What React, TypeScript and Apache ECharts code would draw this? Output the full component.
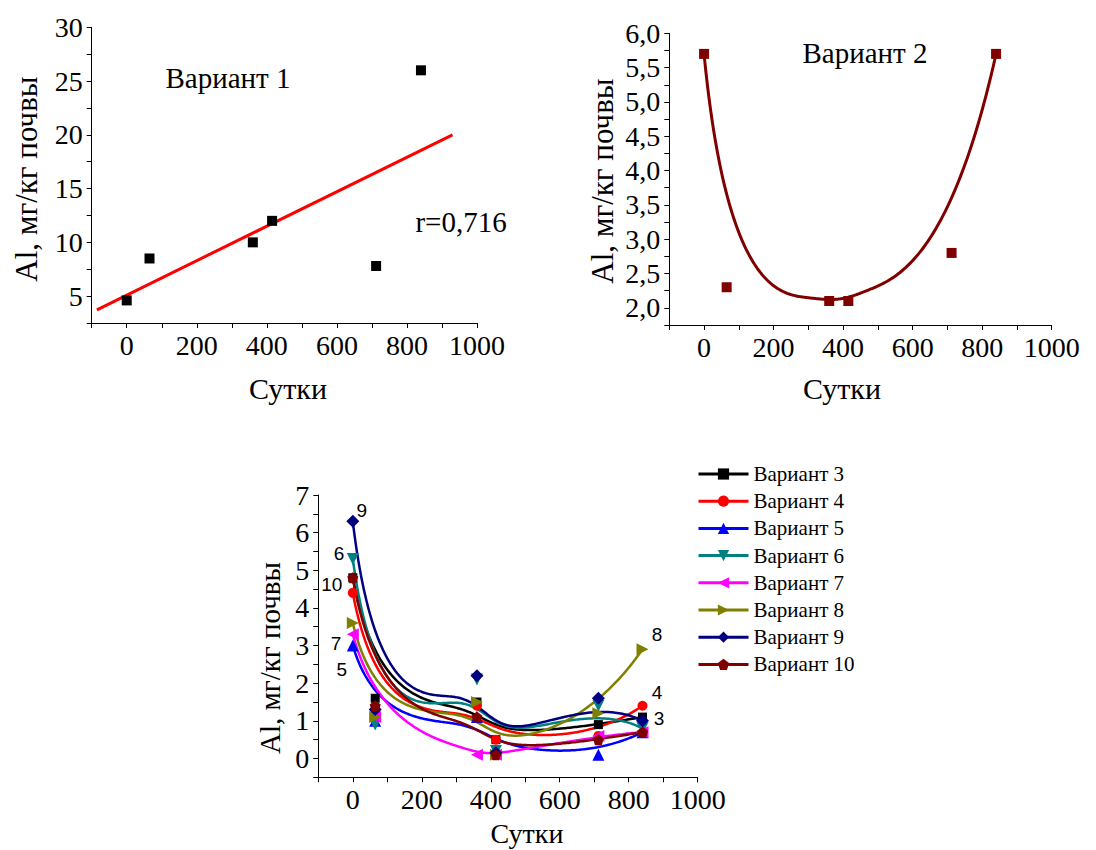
import { useEffect, useRef } from 'react';
import * as echarts from 'echarts';

// ---- data ----
const days = [0, 65, 360, 415, 712, 840];
const variant1 = [4.6, 8.5, 10, 12, 7.8, 26];
const variant2 = [5.7, 2.3, 2.1, 2.1, 2.8, 5.7];
const variant3 = [4.8, 1.6, 1.5, 0.5, 0.9, 1.1];
const variant4 = [4.4, 1.2, 1.4, 0.5, 0.6, 1.4];
const variant5 = [3.0, 1.0, 1.1, 0.2, 0.1, 0.7];
const variant6 = [5.3, 0.9, 2.1, 0.2, 1.4, 0.8];
const variant7 = [3.3, 1.1, 0.1, 0.1, 0.6, 0.7];
const variant8 = [3.6, 1.1, 1.5, 0.1, 1.2, 2.9];
const variant9 = [6.3, 1.3, 2.2, 0.15, 1.6, 1.0];
const variant10 = [4.8, 1.4, 1.1, 0.1, 0.5, 0.7];
const variantNames = ['Вариант 3', 'Вариант 4', 'Вариант 5', 'Вариант 6', 'Вариант 7', 'Вариант 8', 'Вариант 9', 'Вариант 10'];
const variantValues = [variant3, variant4, variant5, variant6, variant7, variant8, variant9, variant10];
const fitRange = [-85, 930];
const curveLabels = ['9', '6', '10', '7', '5', '8', '4', '3'];

// ---- styles ----
const variantColors = ['#000000', '#ff0000', '#0000ff', '#008080', '#ff00ff', '#808000', '#000080', '#800000'];
const variantSymbols = ['rect', 'circle', 'triangle', 'triangle', 'triangle', 'triangle', 'diamond',
  'path://M50,0 L97.6,34.5 L79.4,90.5 L20.6,90.5 L2.4,34.5 Z'];
const variantRot = [0, 0, 0, 180, 90, -90, 0, 0];
const variantSizes = [9, 10, 12, 12, 12, 12, 13, 11];
const curveLabelPos = [[361.7, 510], [339, 553], [331.7, 584], [336, 643], [341.7, 669], [657, 634], [657, 692], [659, 718]];

const SERIF = 'Liberation Serif';

function pairs(xs: number[], ys: number[]) {
  return xs.map((x, i) => [x, ys[i]]);
}

function linearFit(xs: number[], ys: number[]) {
  const n = xs.length;
  const mx = xs.reduce((a, b) => a + b, 0) / n;
  const my = ys.reduce((a, b) => a + b, 0) / n;
  let sxy = 0, sxx = 0, syy = 0;
  for (let i = 0; i < n; i++) {
    sxy += (xs[i] - mx) * (ys[i] - my);
    sxx += (xs[i] - mx) ** 2;
    syy += (ys[i] - my) ** 2;
  }
  const slope = sxy / sxx;
  return { slope, intercept: my - slope * mx, r: sxy / Math.sqrt(sxx * syy) };
}

// clamped cubic B-spline using the data points (in pixel space) as control points
function bspline(pts: number[][], samples = 240): number[][] {
  const n = pts.length;
  const p = Math.min(3, n - 1);
  const spans = n - p;
  const knots: number[] = [];
  for (let i = 0; i <= p; i++) knots.push(0);
  for (let i = 1; i < spans; i++) knots.push(i);
  for (let i = 0; i <= p; i++) knots.push(spans);
  const out: number[][] = [];
  for (let s = 0; s <= samples; s++) {
    const t = (s / samples) * spans;
    let k = p;
    while (k < n - 1 && t >= knots[k + 1]) k++;
    const d: number[][] = [];
    for (let j = 0; j <= p; j++) d.push([pts[j + k - p][0], pts[j + k - p][1]]);
    for (let r = 1; r <= p; r++) {
      for (let j = p; j >= r; j--) {
        const i = j + k - p;
        const denom = knots[i + p - r + 1] - knots[i];
        const a = denom === 0 ? 0 : (t - knots[i]) / denom;
        d[j] = [(1 - a) * d[j - 1][0] + a * d[j][0], (1 - a) * d[j - 1][1] + a * d[j][1]];
      }
    }
    out.push(d[p]);
  }
  return out;
}

function curveSeries(name: string, xIdx: number, data: number[][], color: string, width: number) {
  return {
    type: 'custom',
    name,
    xAxisIndex: xIdx,
    yAxisIndex: xIdx,
    z: 2,
    silent: true,
    data,
    renderItem: (params: any, api: any) => {
      if (params.dataIndex !== 0) return null;
      const px = data.map((d) => api.coord(d));
      return {
        type: 'polyline',
        shape: { points: bspline(px) },
        style: { stroke: color, lineWidth: width, fill: null, lineJoin: 'round' },
      };
    },
  };
}

function isMult(v: number, step: number) {
  return Math.abs(v / step - Math.round(v / step)) < 1e-6;
}

function xAxis(gridIndex: number) {
  return {
    gridIndex,
    type: 'value',
    min: -100,
    max: 1000,
    interval: 100,
    axisLine: { show: true, onZero: false, lineStyle: { color: '#000', width: 1 } },
    axisTick: { show: true, inside: false, length: 5, lineStyle: { color: '#000' } },
    axisLabel: {
      formatter: (v: number) => (isMult(v, 200) ? String(Math.round(v)) : ''),
      fontSize: 28, color: '#000', fontFamily: SERIF, margin: 8,
    },
    splitLine: { show: false },
  };
}

function yAxis(gridIndex: number, min: number, max: number, interval: number, labelStep: number, fmt: (v: number) => string) {
  return {
    gridIndex,
    type: 'value',
    min, max, interval,
    axisLine: { show: true, onZero: false, lineStyle: { color: '#000', width: 1 } },
    axisTick: { show: true, inside: false, length: 5, lineStyle: { color: '#000' } },
    axisLabel: {
      formatter: (v: number) => (isMult(v, labelStep) ? fmt(v) : ''),
      fontSize: 28, color: '#000', fontFamily: SERIF, margin: 9,
    },
    splitLine: { show: false },
  };
}

function text(t: string, x: number, y: number, size: number, rot = 0, family = SERIF) {
  return {
    type: 'text',
    x, y,
    rotation: rot,
    style: { text: t, fontSize: size, fontFamily: family, fill: '#000', textAlign: 'center', textVerticalAlign: 'middle' },
  };
}

export default function App() {
  const ref = useRef<HTMLDivElement>(null);
  useEffect(() => {
    if (!ref.current) return;
    const chart = echarts.init(ref.current, null, { renderer: 'svg' });
    const fit = linearFit(days, variant1);
    const fitData = fitRange.map((x) => [x, fit.intercept + fit.slope * x]);
    const rText = 'r=' + fit.r.toFixed(3).replace('.', ',');

    const series: any[] = [
      {
        type: 'line', xAxisIndex: 0, yAxisIndex: 0, data: fitData, symbol: 'none',
        lineStyle: { color: '#ff0000', width: 3 }, z: 2, silent: true,
      },
      {
        type: 'scatter', xAxisIndex: 0, yAxisIndex: 0, data: pairs(days, variant1),
        symbol: 'rect', symbolSize: 10, itemStyle: { color: '#000', opacity: 1 }, z: 3,
      },
      curveSeries('Вариант 2', 1, pairs(days, variant2), '#800000', 3),
      {
        type: 'scatter', xAxisIndex: 1, yAxisIndex: 1, data: pairs(days, variant2),
        symbol: 'rect', symbolSize: 10, itemStyle: { color: '#800000', opacity: 1 }, z: 3,
      },
    ];
    variantNames.forEach((name, i) => {
      series.push({
        type: 'line', name, xAxisIndex: 2, yAxisIndex: 2,
        data: pairs(days, variantValues[i]),
        symbol: variantSymbols[i], symbolSize: variantSizes[i], symbolRotate: variantRot[i],
        showSymbol: true,
        itemStyle: { color: variantColors[i], opacity: 1 },
        lineStyle: { color: variantColors[i], width: 3, opacity: 0 },
        z: 3,
      });
    });
    variantNames.forEach((name, i) => {
      series.push(curveSeries(name, 2, pairs(days, variantValues[i]), variantColors[i], 2.5));
    });

    chart.setOption({
      animation: false,
      textStyle: { fontFamily: SERIF },
      grid: [
        { left: 91.7, top: 27.3, width: 385.3, height: 295.7 },
        { left: 669.3, top: 33.3, width: 382.4, height: 291.7 },
        { left: 318.3, top: 495, width: 379.4, height: 282.3 },
      ],
      xAxis: [xAxis(0), xAxis(1), xAxis(2)],
      yAxis: [
        yAxis(0, 2.5, 30, 2.5, 5, (v) => String(Math.round(v))),
        yAxis(1, 1.75, 6, 0.25, 0.5, (v) => v.toFixed(1).replace('.', ',')),
        yAxis(2, -0.5, 7, 0.5, 1, (v) => String(Math.round(v))),
      ],
      legend: {
        data: variantNames,
        orient: 'vertical',
        left: 697,
        top: 463.5,
        padding: 0,
        itemWidth: 50,
        itemHeight: 14,
        itemGap: 6.2,
        lineStyle: { opacity: 1, width: 3 },
        selectedMode: false,
        textStyle: { fontSize: 21, fontFamily: SERIF, color: '#000', lineHeight: 21 },
      },
      graphic: [
        text('Вариант 1', 228, 78, 29),
        text(rText, 461, 222, 29),
        text('Al, мг/кг почвы', 26, 179, 31, Math.PI / 2),
        text('Сутки', 288, 388, 30),
        text('Вариант 2', 865, 53, 29),
        text('Al, мг/кг почвы', 602, 181, 31, Math.PI / 2),
        text('Сутки', 842, 388, 30),
        text('Al, мг/кг почвы', 270, 658, 29, Math.PI / 2),
        text('Сутки', 527, 833, 28),
        ...curveLabels.map((t, i) => text(t, curveLabelPos[i][0], curveLabelPos[i][1], 19, 0, 'Liberation Sans')),
      ],
      series,
    });
    return () => chart.dispose();
  }, []);
  return <div ref={ref} style={{ position: 'absolute', left: 0, top: 0, width: 1096, height: 850 }} />;
}
